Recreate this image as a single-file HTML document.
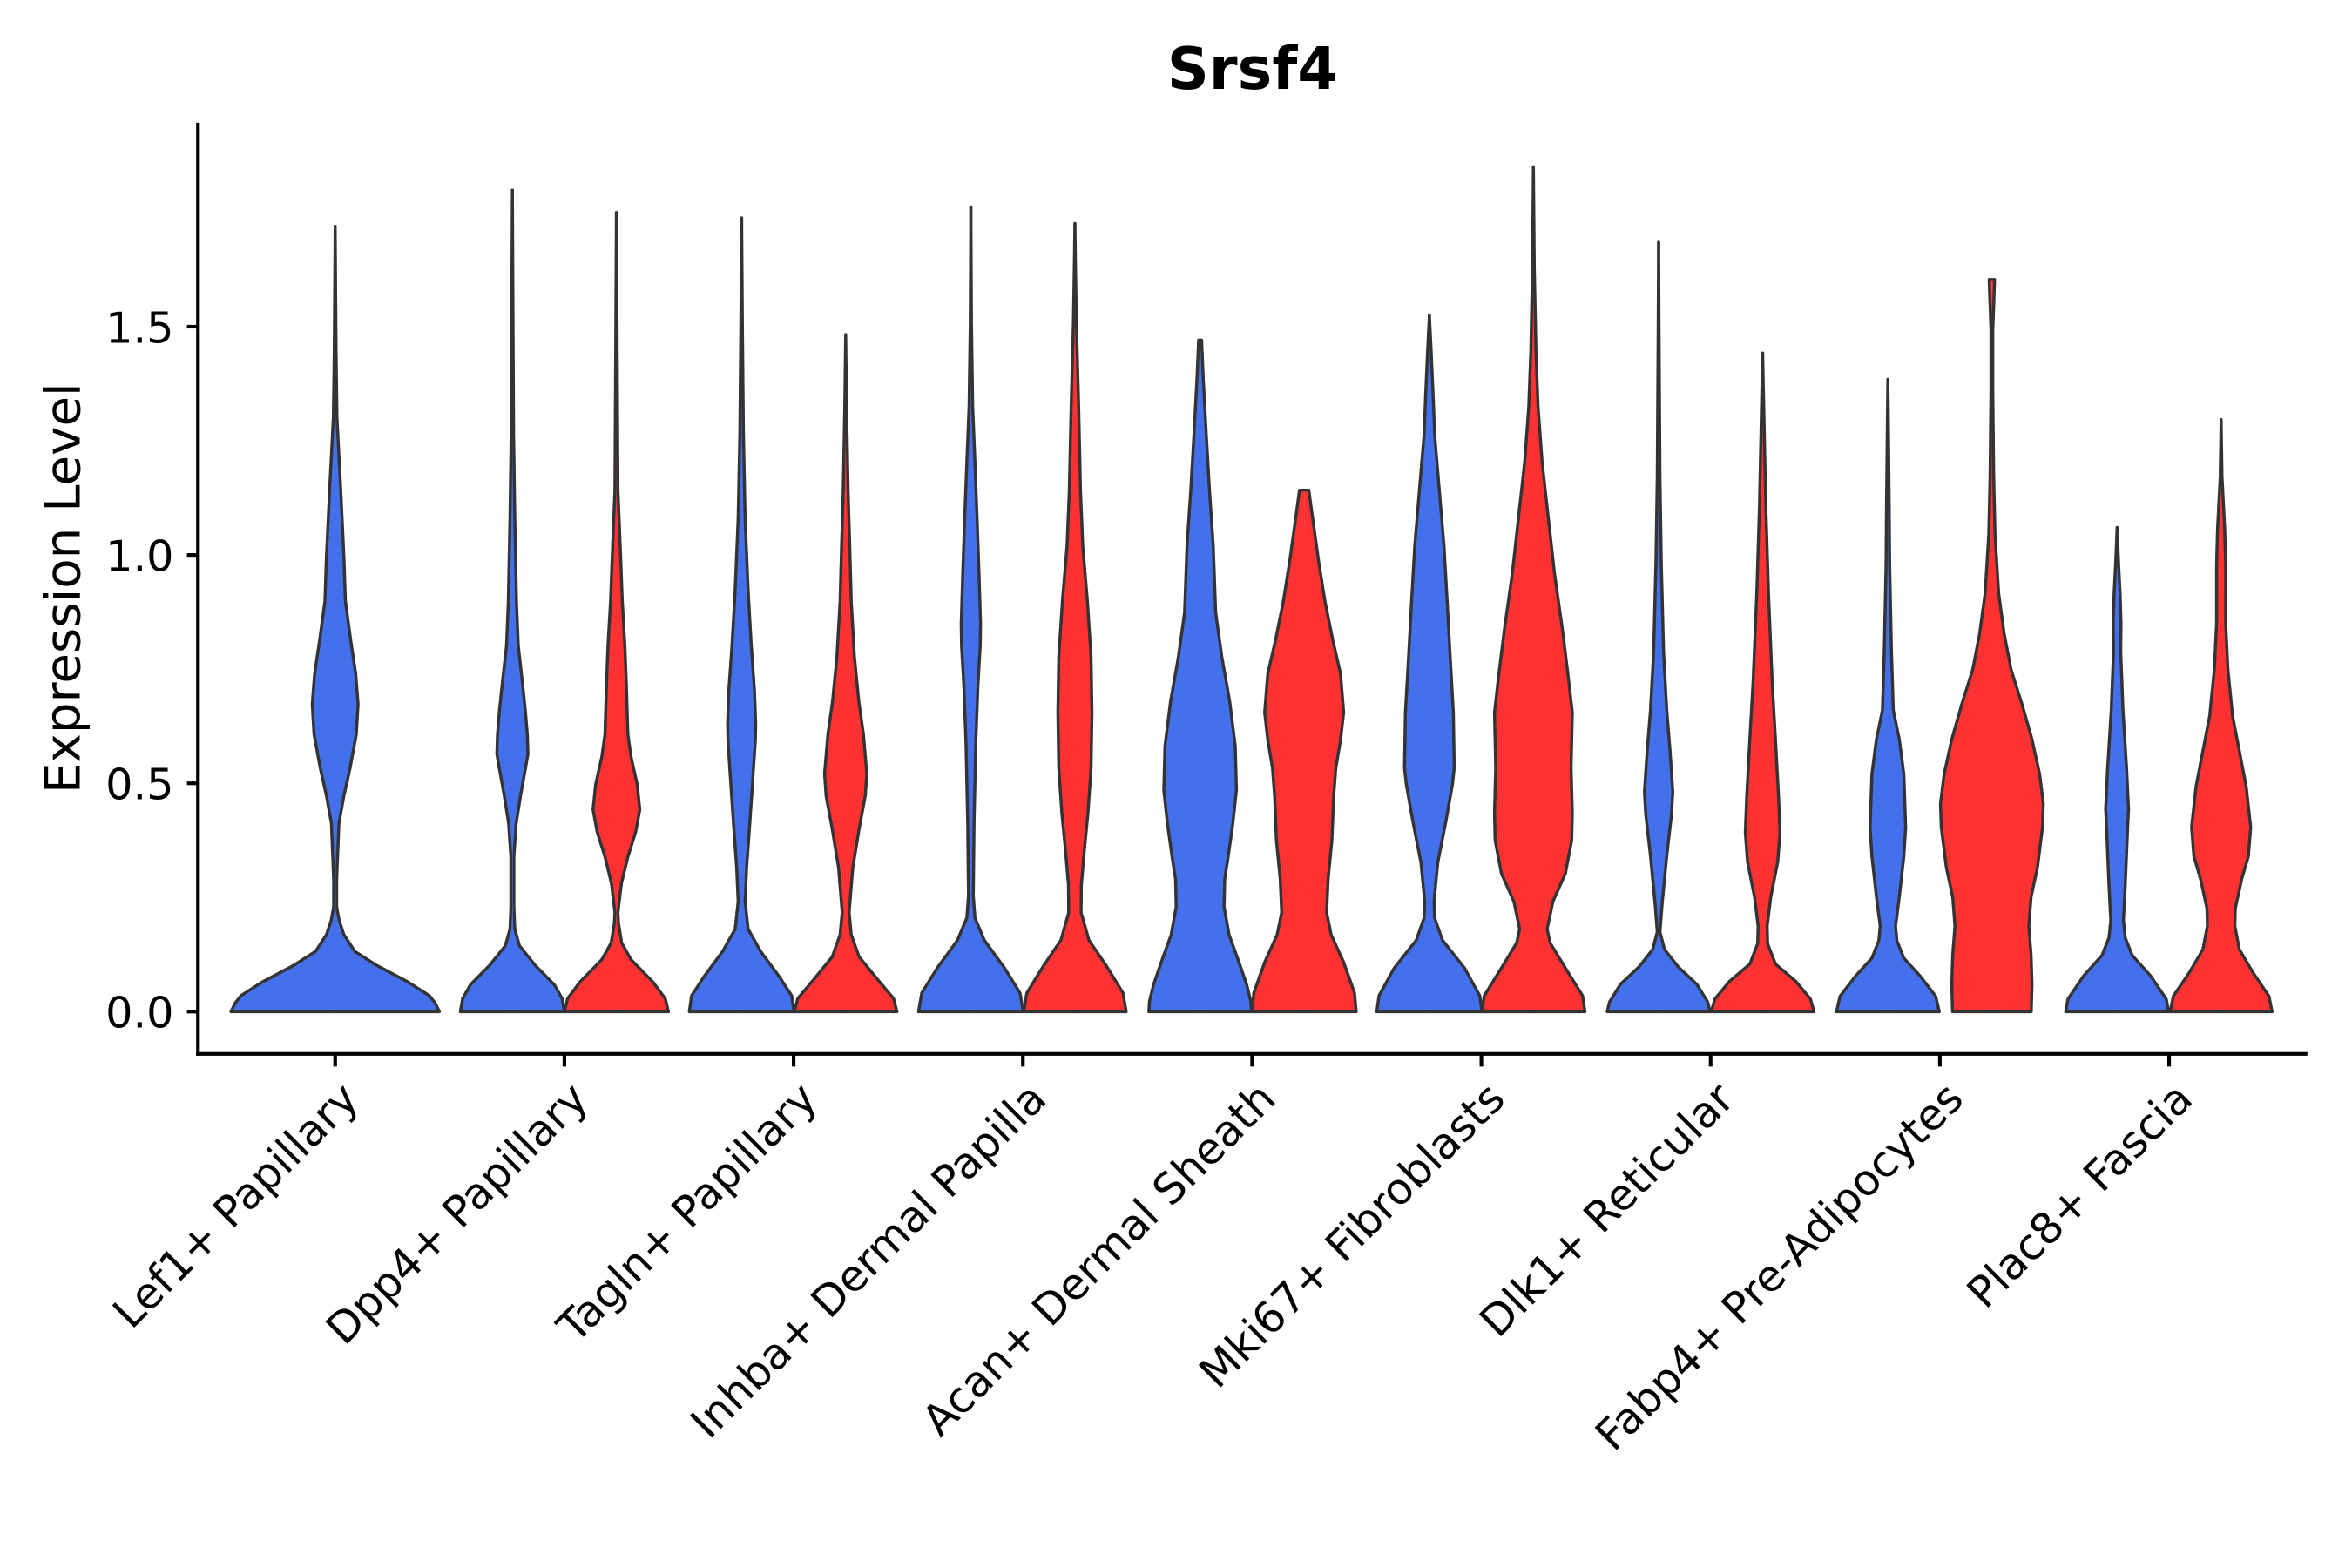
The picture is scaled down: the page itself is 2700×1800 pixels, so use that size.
<!DOCTYPE html>
<html>
<head>
<meta charset="utf-8">
<style>
  html, body { margin: 0; padding: 0; background: #ffffff; overflow: hidden; }
  svg { display: block; }
  text { font-family: "DejaVu Sans", "Liberation Sans", sans-serif; }
</style>
</head>
<body>
<svg xmlns="http://www.w3.org/2000/svg" width="2700" height="1800" viewBox="0 0 1560 1040">
  <rect x="0" y="0" width="1560" height="1040" fill="#ffffff"/>
  <defs>
    <path id="L1" d="M-0.4,671 L69.1,671 L66.5,665.5 L62.5,660.4 L48.1,651.2 L27.4,640.2 L13,631 L5.8,619.9 L2.7,610.7 L1,601.5 L1,583.1 L2.5,546.2 L5.8,527.8 L9.9,509.4 L14,487.2 L15.2,467 L13.6,446.7 L10.3,424.6 L6.8,398.8 L5.8,369.3 L3.7,325.1 L1.2,277.2 L0.6,233 L0,150.1"/>
    <path id="D1" d="M-0.4,671 L34.5,671 L33,662.3 L27.8,653.1 L15.1,640.2 L4.7,627.3 L1.6,616.2 L1,601.5 L1,568.3 L2.5,546.2 L5.4,527.8 L8.7,509.4 L10.3,500.1 L9.9,487.2 L8.7,472.5 L6.8,454.1 L3.9,428.3 L2.7,398.8 L1.6,343.5 L0.8,288.3 L0,126.1"/>
    <path id="D2" d="M-0.4,671 L34.5,671 L32.4,662.3 L24.1,651.2 L9.7,636.5 L3.5,625.4 L1.4,612.5 L1,605.2 L3.3,586 L7.6,568.3 L12.8,551.7 L15.5,537 L13.8,520.4 L9.7,502 L7.6,487.2 L6.6,454.1 L5.6,428.3 L3.9,398.8 L2.5,362 L1,325.1 L0,140.9"/>
    <path id="T1" d="M-0.4,671 L34.7,671 L33.2,660.4 L24.8,647.5 L12.6,631 L4.3,616.2 L2.3,597.8 L3.3,575.7 L5.4,546.2 L7.4,516.7 L9.1,490.9 L9.3,479.9 L8.5,457.8 L6.4,428.3 L4.3,391.4 L2.3,343.5 L1.2,288.3 L0.5,214.6 L0,144.5"/>
    <path id="T2" d="M-0.4,671 L34,671 L31.8,662.3 L21,649.4 L8.9,634.6 L3.7,619.9 L2.3,605.2 L4.7,575.7 L8.9,549.9 L13,527.8 L14,513 L11.8,487.2 L8.7,465.1 L5.8,435.7 L3.7,398.8 L2.7,362 L1.6,325.1 L0.6,269.8 L0,221.9"/>
    <path id="I1" d="M-0.4,671 L34.7,671 L32.6,658.6 L22.3,642 L8.9,623.6 L2.7,608.8 L1.6,594.1 L2.1,546.2 L3.3,490.9 L4.7,454.1 L6.2,428.3 L6.4,413.5 L5.4,380.4 L4.1,343.5 L2.7,306.7 L1.2,269.8 L0.4,214.6 L0,137.2"/>
    <path id="I2" d="M-0.4,671 L34,671 L31.9,658.6 L20.6,640.2 L9.3,623.6 L4.1,605.2 L4.3,586.7 L6.2,564.6 L8.7,538.8 L10.7,509.4 L11.3,472.5 L10.7,435.7 L8.3,398.8 L5.2,362 L3.7,325.1 L2.5,269.8 L1,214.6 L0.4,177.7 L0,148.2"/>
    <path id="A1" d="M-0.4,671 L34,671 L33.6,664.1 L30.9,653.1 L25.8,638.3 L19.2,619.9 L15.9,601.5 L16.3,583.1 L18.6,568.3 L21.7,546.2 L24.1,524.1 L23.3,494.6 L19.6,465.1 L14.4,435.7 L10.3,406.2 L8.7,362 L6.2,325.1 L4.1,288.3 L2.1,251.4 L1,225.6 L0,225.6"/>
    <path id="A2" d="M-0.4,671 L34.5,671 L33.4,658.6 L26.2,638.3 L17.9,619.9 L14.9,605.2 L15.9,583.1 L18.4,557.3 L19.6,527.8 L21,509.4 L24.1,490.9 L26.2,472.5 L24.1,446.7 L19,424.6 L13.8,398.8 L9.7,373 L5.6,343.5 L3.1,325.1 L0,325.1"/>
    <path id="M1" d="M-0.4,671 L34.9,671 L33.4,660.4 L23.3,642 L8.7,623.6 L3.5,608.8 L3.1,597.8 L5.6,572 L10.7,546.2 L15.3,520.4 L16.5,509.4 L15.9,472.5 L13.8,435.7 L11.8,398.8 L9.7,362 L6.6,325.1 L3.5,288.3 L2.5,262.5 L1.2,233 L0,209"/>
    <path id="M2" d="M-0.4,671 L34.2,671 L32.6,660.4 L21.2,642 L11.1,625.4 L9.1,616.2 L13,597.8 L21.2,579.4 L25.4,557.3 L25.8,538.8 L25,509.4 L25.8,472.5 L23.3,450.4 L19.2,417.2 L14,380.4 L9.9,343.5 L5.8,306.7 L3.1,269.8 L1.7,233 L0.6,177.7 L0,110.6"/>
    <path id="K1" d="M-0.4,671 L34.1,671 L32.6,664.6 L25.4,652.9 L13,641.3 L3.9,629.7 L0.9,618.1 L2.4,598.8 L5.4,567.8 L8.5,540.7 L9.4,525.2 L7.6,498.1 L5.4,471.1 L3.3,432.4 L1.8,374.3 L0.9,316.3 L0.3,219.5 L0,160.7"/>
    <path id="K2" d="M-0.4,671 L34.1,671 L31.7,662.6 L22.1,651 L8.5,639.4 L3.3,625.9 L3,614.2 L5.4,594.9 L10,571.7 L11.5,552.3 L10.6,529.1 L8.5,490.4 L6.3,451.7 L3.9,393.7 L2.1,335.6 L0.9,277.6 L0,234.2"/>
    <path id="F1" d="M-0.4,671 L34.1,671 L31.7,660.7 L21.2,647.1 L10.6,635.5 L6,623.9 L5.1,614.2 L7.6,594.9 L10.6,567.8 L11.8,548.5 L10.6,513.6 L7.6,490.4 L3.6,471.1 L2.4,432.4 L1.2,374.3 L0.9,335.6 L0.5,296.9 L0,251.6"/>
    <path id="F2" d="M-0.4,671 L26.1,671 L26.6,652.9 L26,633.6 L24.5,614.2 L26,594.9 L30.2,575.5 L33.6,548.5 L34.1,533 L31.7,513.6 L26.6,490.4 L20,467.2 L12.7,444 L8.2,420.7 L4.5,393.7 L2.1,355 L1.2,316.3 L0.6,258.2 L0.6,219.5 L1.8,185.4 L0,185.4"/>
    <path id="P1" d="M-0.4,671 L34.1,671 L32.6,662.6 L22.1,647.1 L10,633.6 L5.4,622 L4.2,610.4 L5.4,587.2 L7,548.5 L7.6,536.8 L6.3,509.8 L3.9,471.1 L2.4,432.4 L2.6,413 L2,393.7 L1,374.3 L0,349.9"/>
    <path id="P2" d="M-0.4,671 L33.8,671 L31.7,660.7 L21.2,645.2 L12.1,629.7 L9.1,614.2 L9.4,602.6 L13.6,583.3 L18.1,567.8 L19.6,548.5 L16.6,521.4 L12.1,498.1 L7.6,474.9 L4.5,444 L3,413 L3,374.3 L2.4,351.1 L0.6,316.3 L0,278.3"/>
  </defs>

  <!-- Violins -->
  <g stroke="#333333" stroke-width="2" stroke-linejoin="round" stroke-linecap="round">
    <use href="#L1" fill="#4570EB" transform="translate(222.3,0)"/>
    <use href="#L1" fill="#4570EB" transform="translate(222.3,0) scale(-1,1)"/>

    <use href="#D1" fill="#4570EB" transform="translate(339.85,0)"/>
    <use href="#D1" fill="#4570EB" transform="translate(339.85,0) scale(-1,1)"/>
    <use href="#D2" fill="#FE3232" transform="translate(408.85,0)"/>
    <use href="#D2" fill="#FE3232" transform="translate(408.85,0) scale(-1,1)"/>

    <use href="#T1" fill="#4570EB" transform="translate(491.9,0)"/>
    <use href="#T1" fill="#4570EB" transform="translate(491.9,0) scale(-1,1)"/>
    <use href="#T2" fill="#FE3232" transform="translate(560.9,0)"/>
    <use href="#T2" fill="#FE3232" transform="translate(560.9,0) scale(-1,1)"/>

    <use href="#I1" fill="#4570EB" transform="translate(643.95,0)"/>
    <use href="#I1" fill="#4570EB" transform="translate(643.95,0) scale(-1,1)"/>
    <use href="#I2" fill="#FE3232" transform="translate(712.95,0)"/>
    <use href="#I2" fill="#FE3232" transform="translate(712.95,0) scale(-1,1)"/>

    <use href="#A1" fill="#4570EB" transform="translate(796,0)"/>
    <use href="#A1" fill="#4570EB" transform="translate(796,0) scale(-1,1)"/>
    <use href="#A2" fill="#FE3232" transform="translate(865,0)"/>
    <use href="#A2" fill="#FE3232" transform="translate(865,0) scale(-1,1)"/>

    <use href="#M1" fill="#4570EB" transform="translate(948.05,0)"/>
    <use href="#M1" fill="#4570EB" transform="translate(948.05,0) scale(-1,1)"/>
    <use href="#M2" fill="#FE3232" transform="translate(1017.05,0)"/>
    <use href="#M2" fill="#FE3232" transform="translate(1017.05,0) scale(-1,1)"/>

    <use href="#K1" fill="#4570EB" transform="translate(1100.1,0)"/>
    <use href="#K1" fill="#4570EB" transform="translate(1100.1,0) scale(-1,1)"/>
    <use href="#K2" fill="#FE3232" transform="translate(1169.1,0)"/>
    <use href="#K2" fill="#FE3232" transform="translate(1169.1,0) scale(-1,1)"/>

    <use href="#F1" fill="#4570EB" transform="translate(1252.15,0)"/>
    <use href="#F1" fill="#4570EB" transform="translate(1252.15,0) scale(-1,1)"/>
    <use href="#F2" fill="#FE3232" transform="translate(1321.15,0)"/>
    <use href="#F2" fill="#FE3232" transform="translate(1321.15,0) scale(-1,1)"/>

    <use href="#P1" fill="#4570EB" transform="translate(1404.2,0)"/>
    <use href="#P1" fill="#4570EB" transform="translate(1404.2,0) scale(-1,1)"/>
    <use href="#P2" fill="#FE3232" transform="translate(1473.2,0)"/>
    <use href="#P2" fill="#FE3232" transform="translate(1473.2,0) scale(-1,1)"/>
  </g>

  <!-- Axes -->
  <g stroke="#000000" stroke-width="2.4" fill="none">
    <line x1="131.3" y1="81.4" x2="131.3" y2="700.2"/>
    <line x1="130.1" y1="699" x2="1530.4" y2="699"/>
    <!-- y ticks -->
    <line x1="124" y1="671" x2="131.3" y2="671"/>
    <line x1="124" y1="519.55" x2="131.3" y2="519.55"/>
    <line x1="124" y1="368.1" x2="131.3" y2="368.1"/>
    <line x1="124" y1="216.65" x2="131.3" y2="216.65"/>
    <!-- x ticks -->
    <line x1="222.3" y1="699" x2="222.3" y2="707.4"/>
    <line x1="374.35" y1="699" x2="374.35" y2="707.4"/>
    <line x1="526.4" y1="699" x2="526.4" y2="707.4"/>
    <line x1="678.45" y1="699" x2="678.45" y2="707.4"/>
    <line x1="830.5" y1="699" x2="830.5" y2="707.4"/>
    <line x1="982.55" y1="699" x2="982.55" y2="707.4"/>
    <line x1="1134.6" y1="699" x2="1134.6" y2="707.4"/>
    <line x1="1286.65" y1="699" x2="1286.65" y2="707.4"/>
    <line x1="1438.7" y1="699" x2="1438.7" y2="707.4"/>
  </g>

  <!-- Y tick labels -->
  <g font-size="28.5" fill="#000000" text-anchor="end">
    <text x="115.3" y="681.6">0.0</text>
    <text x="115.3" y="530.15">0.5</text>
    <text x="115.3" y="378.7">1.0</text>
    <text x="115.3" y="227.25">1.5</text>
  </g>

  <!-- Y axis title -->
  <text x="0" y="0" font-size="32.5" fill="#000000" text-anchor="middle" transform="translate(53,390.1) rotate(-90)">Expression Level</text>

  <!-- Title -->
  <text x="830.7" y="58.8" font-size="38.5" font-weight="bold" fill="#000000" text-anchor="middle">Srsf4</text>

  <!-- X tick labels -->
  <g font-size="28.5" fill="#000000" text-anchor="end">
    <text x="0" y="0" transform="translate(239.3,730.3) rotate(-45)">Lef1+ Papillary</text>
    <text x="0" y="0" transform="translate(391.35,730.3) rotate(-45)">Dpp4+ Papillary</text>
    <text x="0" y="0" transform="translate(543.4,730.3) rotate(-45)">Tagln+ Papillary</text>
    <text x="0" y="0" transform="translate(695.45,730.3) rotate(-45)">Inhba+ Dermal Papilla</text>
    <text x="0" y="0" transform="translate(847.5,730.3) rotate(-45)">Acan+ Dermal Sheath</text>
    <text x="0" y="0" transform="translate(999.55,730.3) rotate(-45)">Mki67+ Fibroblasts</text>
    <text x="0" y="0" transform="translate(1151.6,730.3) rotate(-45)">Dlk1+ Reticular</text>
    <text x="0" y="0" transform="translate(1303.65,730.3) rotate(-45)">Fabp4+ Pre-Adipocytes</text>
    <text x="0" y="0" transform="translate(1455.7,730.3) rotate(-45)">Plac8+ Fascia</text>
  </g>
</svg>
</body>
</html>
